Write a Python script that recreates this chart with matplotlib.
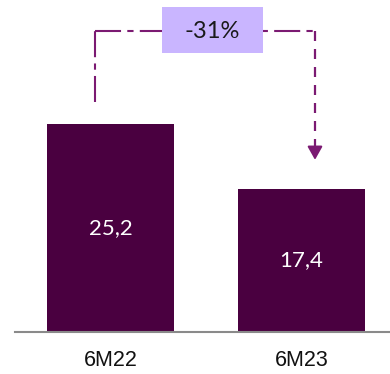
import matplotlib.pyplot as plt
from matplotlib.patches import FancyBboxPatch

periods = ["6M22", "6M23"]
values = [25.2, 17.4]
change_label = "-31%"

bar_color = "#4a0040"
line_color = "#7b1a72"
box_color = "#c9b5ff"

fig = plt.figure(figsize=(3.9, 3.74), dpi=100)
ax = fig.add_axes([0, 42 / 374, 1, 332 / 374])

x = range(len(periods))
ax.bar(x, values, width=0.665, color=bar_color, zorder=2)
ax.set_xlim(-0.5785, 1.4634)
ax.set_ylim(0, 40.3)

# value labels in the middle of each bar
for xi, v in zip(x, values):
    ax.text(xi, v / 2, f"{v:.1f}".replace(".", ","), ha="center", va="center",
            color="white", fontsize=16, family="Lato")

# baseline
ax.axhline(0, xmin=15 / 390, xmax=1, color="#8a8a8a", lw=1.5, clip_on=False, zorder=3)

for s in ax.spines.values():
    s.set_visible(False)
ax.set_yticks([])
ax.set_xticks([])
for xi, p in zip(x, periods):
    ax.text(xi, -3.4, p, ha="center", va="center", fontsize=15.5,
            family="Liberation Sans", color="#111111", clip_on=False)

# change connector from first bar to second
y_top = 36.5
x_left = -0.0785
x_right = 1.0707
dashdot = (0, (12.5, 3, 3, 3))
ax.plot([x_left, x_left], [27.9, y_top], color=line_color, lw=1.5, ls=dashdot)
ax.plot([x_left, x_right], [y_top, y_top], color=line_color, lw=1.5, ls=dashdot)
ax.plot([x_right, x_right], [y_top, 22.4], color=line_color, lw=1.6, ls=(0, (4.5, 3.6)))
ax.annotate("", xy=(x_right, 20.9), xytext=(x_right, 22.6),
            arrowprops=dict(arrowstyle="-|>,head_length=0.8,head_width=0.45",
                            color=line_color, lw=1.5, shrinkA=0, shrinkB=0))

# change label box
box = FancyBboxPatch((162 / 390, 1 - 53 / 374), 101 / 390, 46 / 374,
                     boxstyle="square,pad=0", transform=fig.transFigure,
                     facecolor=box_color, edgecolor="none", zorder=4)
fig.patches.append(box)
fig.text(212.5 / 390, 1 - 31 / 374, change_label, ha="center", va="center",
         fontsize=17, family="Lato", color="#1a1a1a", zorder=5)

fig.savefig("out.png", dpi=100)
